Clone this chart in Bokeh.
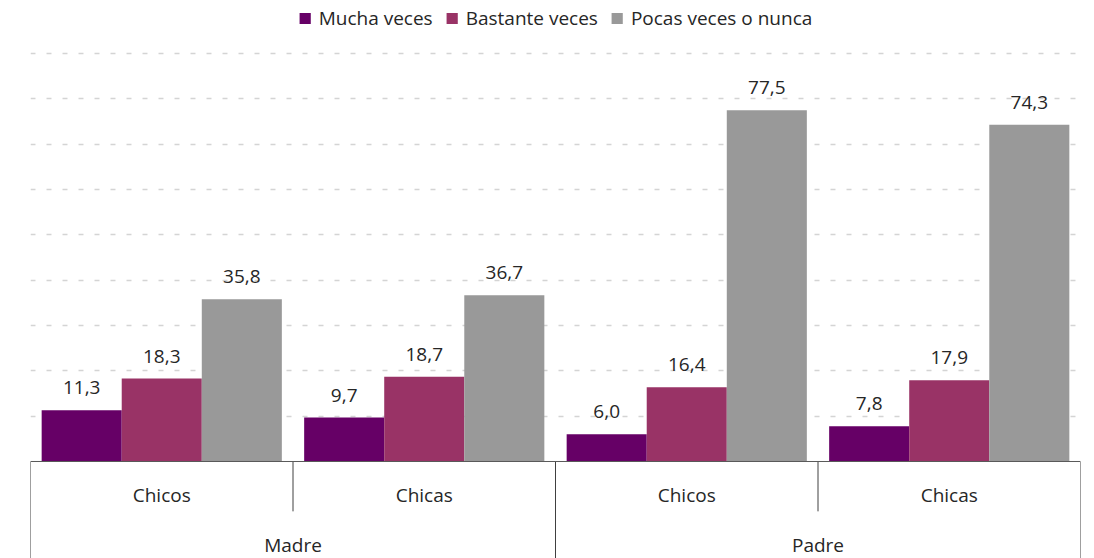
from bokeh.plotting import figure
from bokeh.models import (ColumnDataSource, FactorRange, Range1d, Grid, FixedTicker,
                          Span, Legend, LegendItem)
from bokeh.transform import dodge
from bokeh.core.properties import value
from bokeh.embed import file_html
from bokeh.resources import INLINE

# ---- data ----
parents = ["Madre", "Madre", "Padre", "Padre"]
children = ["Chicos", "Chicas", "Chicos", "Chicas"]
parent_groups = ["Madre", "Padre"]
series_names = ["Mucha veces", "Bastante veces", "Pocas veces o nunca"]
mucha = [11.3, 9.7, 6.0, 7.8]
bastante = [18.3, 18.7, 16.4, 17.9]
pocas = [35.8, 36.7, 77.5, 74.3]
grid_ticks = [10, 20, 30, 40, 50, 60, 70, 80, 90]

colors = ["#660066", "#993366", "#999999"]
FONT = "Open Sans"
TEXT = "#262626"
FS = "19px"

factors = list(zip(parents, children))


def fmt(v):
    return f"{v:.1f}".replace(".", ",")


src = ColumnDataSource(dict(
    f=factors,
    mucha=mucha, bastante=bastante, pocas=pocas,
    lab_mucha=[fmt(v) for v in mucha],
    lab_bastante=[fmt(v) for v in bastante],
    lab_pocas=[fmt(v) for v in pocas],
))

p = figure(width=1094, height=558,
           x_range=FactorRange(factors=factors, range_padding=0, factor_padding=0,
                               subgroup_padding=0, group_padding=0),
           y_range=Range1d(-21.4, 101.7),
           x_axis_location=None, y_axis_location=None,
           toolbar_location=None, output_backend="svg",
           min_border=0, min_border_left=30, min_border_right=14,
           outline_line_color=None)
p.grid.visible = False

p.add_layout(Grid(dimension=1, ticker=FixedTicker(ticks=grid_ticks),
                  grid_line_color="#d4d4d4", grid_line_width=1.5,
                  grid_line_dash="5 11"))

W = 0.305
renderers = []
for i, (col, color) in enumerate(zip(["mucha", "bastante", "pocas"], colors)):
    off = (i - 1) * W
    r = p.vbar(x=dodge("f", off, range=p.x_range), top=col, bottom=0, width=W,
               fill_color=color, line_color=None, source=src)
    renderers.append(r)
    p.text(x=dodge("f", off, range=p.x_range), y=col, text="lab_" + col, source=src,
           text_font=value(FONT), text_font_size=FS, text_color=TEXT,
           text_align="center", text_baseline="bottom", y_offset=-16)

# baseline
p.add_layout(Span(location=0, dimension="width", line_color="#595959", line_width=1))

# category separators
INNER_Y = -11.0
OUTER_Y = -21.4
first_in_group = [i == 0 or parents[i] != parents[i - 1] for i in range(len(factors))]
sep_src = ColumnDataSource(dict(
    f=factors,
    y1=[OUTER_Y if fg else INNER_Y for fg in first_in_group],
))
p.segment(x0=dodge("f", -0.5, range=p.x_range), y0=0,
          x1=dodge("f", -0.5, range=p.x_range), y1="y1",
          source=sep_src, line_color="#404040", line_width=1)
end_src = ColumnDataSource(dict(f=[factors[-1]], y1=[OUTER_Y]))
p.segment(x0=dodge("f", 0.5, range=p.x_range), y0=0,
          x1=dodge("f", 0.5, range=p.x_range), y1="y1",
          source=end_src, line_color="#404040", line_width=1)

# category labels
child_src = ColumnDataSource(dict(f=factors, t=children, y=[-7.5] * len(factors)))
p.text(x="f", y="y", text="t", source=child_src, text_font=value(FONT),
       text_font_size=FS, text_color=TEXT, text_align="center", text_baseline="middle")
par_src = ColumnDataSource(dict(f=parent_groups, t=parent_groups, y=[-18.5] * len(parent_groups)))
p.text(x="f", y="y", text="t", source=par_src, text_font=value(FONT),
       text_font_size=FS, text_color=TEXT, text_align="center", text_baseline="middle")

legend = Legend(items=[LegendItem(label=n, renderers=[r]) for n, r in zip(series_names, renderers)],
                orientation="horizontal", location="top_center",
                glyph_width=14, glyph_height=14, label_standoff=7, spacing=12,
                padding=0, margin=5, border_line_color=None, background_fill_alpha=0,
                label_text_font=FONT, label_text_font_size=FS, label_text_color=TEXT,
                label_height=14)
p.add_layout(legend)

open("out.html", "w").write(file_html(p, INLINE))
